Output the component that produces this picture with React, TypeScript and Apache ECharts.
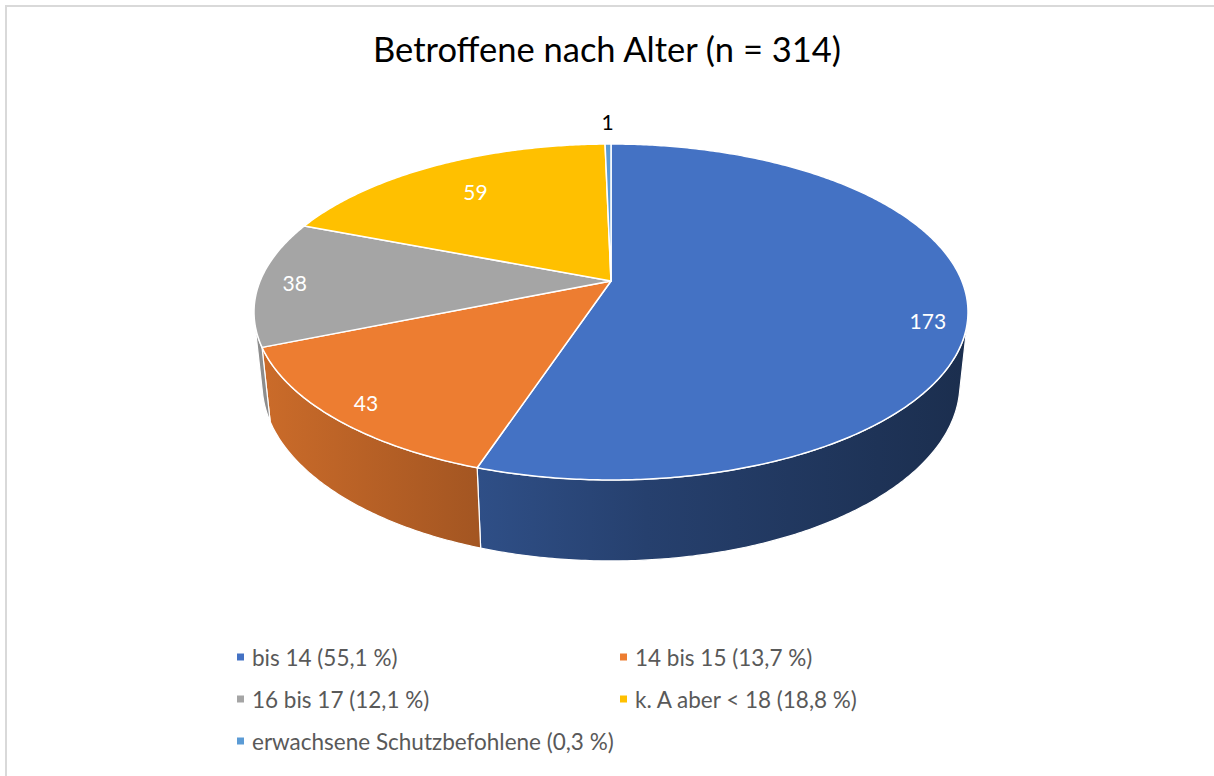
import React, { useEffect, useRef } from 'react';
import * as echarts from 'echarts';

const titleText = 'Betroffene nach Alter (n = 314)';
const categories = ['bis 14', '14 bis 15', '16 bis 17', 'k. A aber < 18', 'erwachsene Schutzbefohlene'];
const values = [173, 43, 38, 59, 1];
const colors = ['#4472C4', '#ED7D31', '#A5A5A5', '#FFC000', '#5B9BD5'];

// label placement style: [fraction along slice angle, radius fraction]
const labelPlace: [number, number][] = [
  [0.53, 0.895],
  [0.5, 0.9],
  [0.5, 0.9],
  [0.5, 0.75],
  [0.5, 1.2],
];

const total = values.reduce((a, b) => a + b, 0);
const startFrac: number[] = [];
{
  let acc = 0;
  for (const v of values) {
    startFrac.push(acc / total);
    acc += v;
  }
}
const pctLabel = (v: number) => (Math.round((v / total) * 1000) / 10).toFixed(1).replace('.', ',');
const legendNames = categories.map((c, i) => `${c} (${pctLabel(values[i])} %)`);

// 3D projection of the pie (radius 1)
const CX = 611;
const CY = 281;
const SIN_P = 0.4625;
const COS_P = Math.sqrt(1 - SIN_P * SIN_P);
const DIST = 4.808;
const FOC = 1687;
const THICK = 0.2324;

function project(x: number, y: number, z: number): [number, number] {
  const depth = DIST - y * SIN_P - z * COS_P;
  const up = y * COS_P - z * SIN_P;
  return [CX + (FOC * x) / depth, CY - (FOC * up) / depth];
}
function rim(a: number, r: number, y: number): [number, number] {
  return project(r * Math.sin(a), y, -r * Math.cos(a));
}
function shade(hex: string, f: number) {
  const n = parseInt(hex.slice(1), 16);
  const r = Math.round(((n >> 16) & 255) * f);
  const g = Math.round(((n >> 8) & 255) * f);
  const b = Math.round((n & 255) * f);
  return `rgb(${r},${g},${b})`;
}

const VIS = Math.acos(-1 / (DIST * COS_P));

function renderItem(params: any, api: any) {
  const i = params.dataIndex;
  const v = api.value(0);
  const a1 = startFrac[i] * Math.PI * 2;
  const a2 = a1 + (v / total) * Math.PI * 2;
  const children: any[] = [];

  // outer wall
  const lo = Math.max(a1, VIS);
  const hi = Math.min(a2, Math.PI * 2 - VIS);
  if (hi > lo) {
    const pts: [number, number][] = [];
    const n = Math.max(2, Math.ceil((hi - lo) / 0.01));
    for (let k = 0; k <= n; k++) pts.push(rim(lo + ((hi - lo) * k) / n, 1, 0));
    for (let k = n; k >= 0; k--) pts.push(rim(lo + ((hi - lo) * k) / n, 1, -THICK));
    const left = rim(Math.PI * 2 - VIS, 1, 0)[0];
    const right = rim(VIS, 1, 0)[0];
    children.push({
      type: 'polygon',
      z2: 1,
      shape: { points: pts },
      style: {
        fill: {
          type: 'linear',
          x: left,
          y: 0,
          x2: right,
          y2: 0,
          global: true,
          colorStops: [
            { offset: 0, color: shade(colors[i], 0.86) },
            { offset: 0.31, color: shade(colors[i], 0.69) },
            { offset: 0.55, color: shade(colors[i], 0.56) },
            { offset: 1, color: shade(colors[i], 0.4) },
          ],
        },
        stroke: '#ffffff',
        lineWidth: 1.2,
      },
    });
  }

  // top face
  const top: [number, number][] = [project(0, 0, 0)];
  const m = Math.max(2, Math.ceil((a2 - a1) / 0.01));
  for (let k = 0; k <= m; k++) top.push(rim(a1 + ((a2 - a1) * k) / m, 1, 0));
  children.push({
    type: 'polygon',
    z2: 2,
    shape: { points: top },
    style: { fill: colors[i], stroke: '#ffffff', lineWidth: 1.5, lineJoin: 'round' },
  });

  // label
  const [frac, rad] = labelPlace[i];
  const mid = a1 + (a2 - a1) * frac;
  const outside = rad > 1;
  const [lx, ly] = rim(mid, rad, 0);
  children.push({
    type: 'text',
    z2: 10,
    style: {
      text: String(v),
      x: lx,
      y: ly,
      fill: outside ? '#000000' : '#ffffff',
      fontSize: 21,
      fontFamily: 'Lato',
      align: 'center',
      verticalAlign: 'middle',
    },
  });

  return { type: 'group', children };
}

export default function App() {
  const ref = useRef<HTMLDivElement>(null);
  useEffect(() => {
    if (!ref.current) return;
    const chart = echarts.init(ref.current, undefined, { renderer: 'svg' });
    const legendCommon = {
      orient: 'vertical',
      icon: 'rect',
      itemWidth: 7,
      itemHeight: 7,
      itemGap: 18,
      selectedMode: false,
      textStyle: {
        color: '#595959',
        fontSize: 22.5,
        fontFamily: 'Lato',
        lineHeight: 24,
        padding: [0, 0, 0, 3],
      },
    };
    chart.setOption({
      animation: false,
      backgroundColor: '#ffffff',
      title: {
        text: titleText,
        left: 'center',
        top: 26,
        textStyle: { fontFamily: 'Lato', fontSize: 34.5, fontWeight: 'normal', color: '#000000' },
      },
      legend: [
        { ...legendCommon, left: 232, top: 640, data: [legendNames[0], legendNames[2], legendNames[4]] },
        { ...legendCommon, left: 615, top: 640, data: [legendNames[1], legendNames[3]] },
      ],
      graphic: [
        {
          type: 'rect',
          shape: { x: 6, y: 6, width: 1240, height: 800 },
          style: { fill: 'none', stroke: '#d9d9d9', lineWidth: 2 },
          silent: true,
        },
      ],
      series: [
        {
          type: 'pie',
          radius: [0, 0],
          center: [611, 281],
          silent: true,
          label: { show: false },
          labelLine: { show: false },
          data: legendNames.map((n, i) => ({ name: n, value: values[i], itemStyle: { color: colors[i] } })),
        },
        {
          type: 'custom',
          coordinateSystem: 'none',
          silent: true,
          renderItem,
          data: values.map((v) => [v]),
        },
      ],
    });
    return () => chart.dispose();
  }, []);
  return <div ref={ref} style={{ position: 'fixed', left: 0, top: 0, width: 1214, height: 776 }} />;
}
